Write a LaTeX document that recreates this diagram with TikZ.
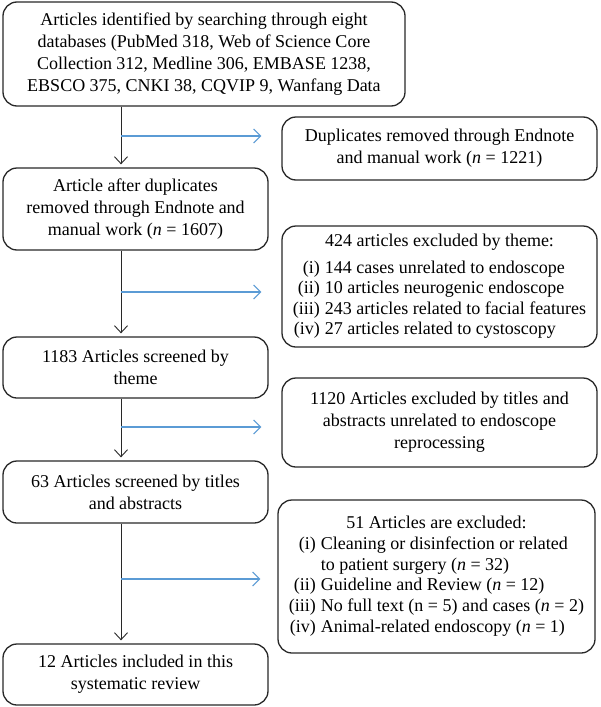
\documentclass[tikz,border=0pt]{standalone}
\usepackage{fontspec}
\setmainfont{Liberation Serif}
\usetikzlibrary{arrows.meta}
\definecolor{bl}{RGB}{91,155,213}
\definecolor{ln}{RGB}{40,40,40}
\begin{document}
\begin{tikzpicture}[x=1pt,y=-1pt,
  box/.style={draw=ln, line width=1.3pt, rounded corners=14pt, align=center,
    font=\fontsize{18}{22}\selectfont, inner sep=0pt},
  flow/.style={draw=ln, line width=0.9pt, -{Straight Barb[length=7pt,width=13pt]}, shorten >=3pt},
  side/.style={draw=bl, line width=1.1pt, -{Straight Barb[length=7pt,width=14pt]}}]
\useasboundingbox (0,0) rectangle (600,707);
\fill[white] (0,0) rectangle (600,707);

\node[box, minimum width=402pt, minimum height=104pt] (b1) at (204,54)
  {Articles identified by searching through eight\\
   databases (PubMed 318, Web of Science Core\\
   Collection 312, Medline 306, EMBASE 1238,\\
   EBSCO 375, CNKI 38, CQVIP 9, Wanfang Data};
\node[box, minimum width=315pt, minimum height=63pt] (dup) at (439.5,148.5)
  {Duplicates removed through Endnote\\ and manual work (\textit{n} = 1221)};
\node[box, minimum width=265pt, minimum height=82pt] (b2) at (135.5,209)
  {Article after duplicates\\ removed through Endnote and\\ manual work (\textit{n} = 1607)};
\node[box, minimum width=315pt, minimum height=121pt] (theme) at (439.5,286.5)
  {\fontsize{18}{20.5}\selectfont\begin{tabular}{@{}r@{\hspace{5pt}}l@{}}
   \multicolumn{2}{c}{424 articles excluded by theme:}\\[6pt]
   (i) & 144 cases unrelated to endoscope\\
   (ii) & 10 articles neurogenic endoscope\\
   (iii) & 243 articles related to facial features\\
   (iv) & 27 articles related to cystoscopy
   \end{tabular}};
\node[box, minimum width=265pt, minimum height=61pt] (b3) at (135.5,367.5)
  {1183 Articles screened by\\ theme};
\node[box, minimum width=315pt, minimum height=89pt] (ti) at (439.5,422.5)
  {1120 Articles excluded by titles and\\ abstracts unrelated to endoscope\\ reprocessing};
\node[box, minimum width=265pt, minimum height=62pt] (b4) at (135.5,492)
  {63 Articles screened by titles\\ and abstracts};
\node[box, minimum width=317pt, minimum height=153pt] (ex) at (436.5,576.5)
  {\fontsize{18}{20.7}\selectfont\begin{tabular}{@{}r@{\hspace{5pt}}l@{}}
   \multicolumn{2}{c}{51 Articles are excluded:}\\
   (i) & Cleaning or disinfection or related\\
       & to patient surgery (\textit{n} = 32)\\
   (ii) & Guideline and Review (\textit{n} = 12)\\
   (iii) & No full text (n = 5) and cases (\textit{n} = 2)\\
   (iv) & Animal-related endoscopy (\textit{n} = 1)
   \end{tabular}};
\node[box, minimum width=265pt, minimum height=61pt] (b5) at (135.5,674.5)
  {12 Articles included in this\\ systematic review};

\coordinate (s) at (121,0);
\draw[flow] (b1.south -| s) -- (b2.north -| s);
\draw[flow] (b2.south -| s) -- (b3.north -| s);
\draw[flow] (b3.south -| s) -- (b4.north -| s);
\draw[flow] (b4.south -| s) -- (b5.north -| s);

\coordinate (j1) at (121,136);
\coordinate (j2) at (121,292);
\coordinate (j3) at (121,427);
\coordinate (j4) at (121,579);
\draw[side, shorten >=20pt] (j1) -- (j1 -| dup.west);
\draw[side, shorten >=20pt] (j2) -- (j2 -| theme.west);
\draw[side, shorten >=20pt] (j3) -- (j3 -| ti.west);
\draw[side, shorten >=17pt] (j4) -- (j4 -| ex.west);
\end{tikzpicture}
\end{document}
